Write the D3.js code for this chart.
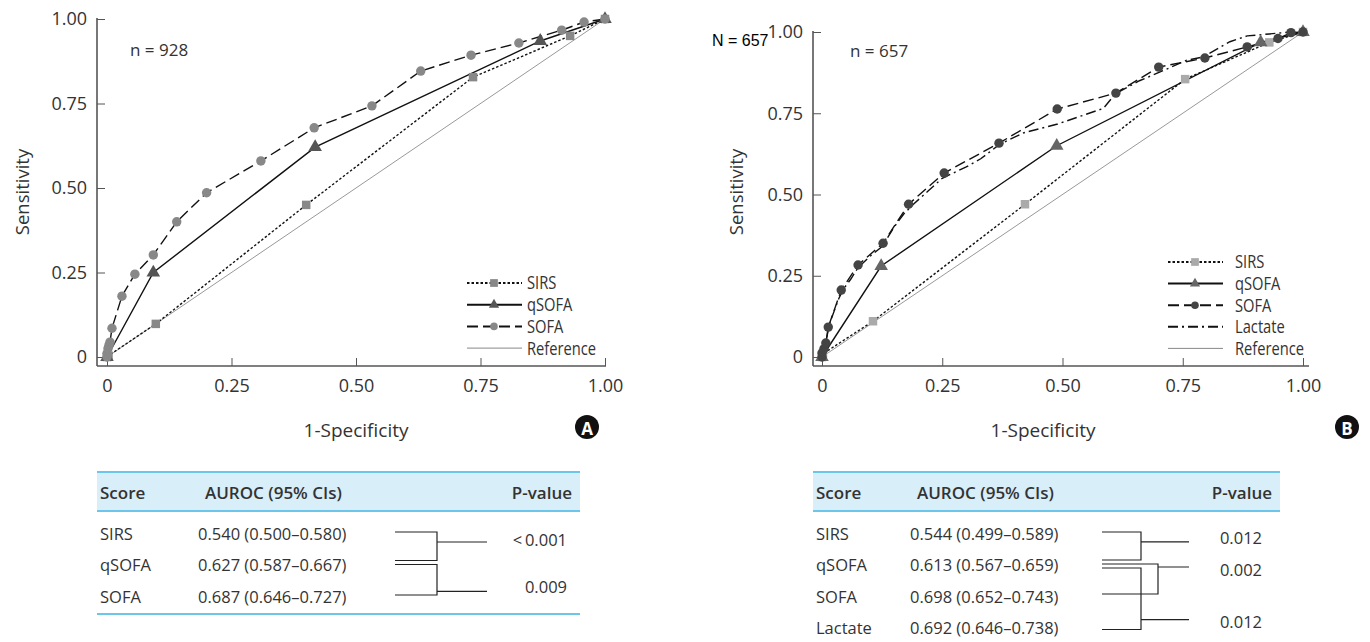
<!DOCTYPE html>
<html>
<head>
<meta charset="utf-8">
<script src="https://cdn.jsdelivr.net/npm/d3@7"></script>
<style>
  body { margin: 0; background: #fff; }
  svg text { font-family: "Open Sans", sans-serif; fill: #333; }
</style>
</head>
<body>
<svg id="chart" width="1370" height="642"></svg>
<script>
const axisTicks = [0, 0.25, 0.5, 0.75, 1];

// panel A (n = 928): [1-specificity, sensitivity]
const sirsA = [[0, 0], [0.003, 0.004], [0.098, 0.098], [0.40, 0.45], [0.735, 0.828], [0.93, 0.95], [1, 1]];
const qsofaA = [[0, 0], [0.093, 0.25], [0.418, 0.621], [0.87, 0.935], [1, 1]];
const sofaA = [[0, 0], [0, 0.01], [0.002, 0.025], [0.004, 0.035], [0.006, 0.044], [0.01, 0.085],
  [0.03, 0.18], [0.056, 0.245], [0.093, 0.302], [0.14, 0.40], [0.20, 0.486], [0.309, 0.58],
  [0.416, 0.678], [0.532, 0.743], [0.63, 0.846], [0.731, 0.893], [0.827, 0.929], [0.913, 0.967],
  [0.958, 0.991], [1, 1]];

// panel B (n = 657)
const sirsB = [[0, 0], [0.002, 0.01], [0.106, 0.11], [0.422, 0.47], [0.755, 0.855], [0.93, 0.968], [1, 1]];
const qsofaB = [[0, 0], [0.123, 0.28], [0.488, 0.65], [0.912, 0.968], [1, 1]];
const sofaB = [[0, 0], [0, 0.012], [0.004, 0.025], [0.008, 0.043], [0.013, 0.092], [0.04, 0.206],
  [0.075, 0.283], [0.127, 0.35], [0.18, 0.47], [0.254, 0.566], [0.368, 0.658], [0.489, 0.763],
  [0.611, 0.812], [0.70, 0.892], [0.796, 0.92], [0.884, 0.954], [0.948, 0.98], [0.975, 0.998], [1, 1]];
const lactateB = [[0, 0], [0.004, 0.03], [0.01, 0.06], [0.015, 0.1], [0.025, 0.14], [0.035, 0.18],
  [0.045, 0.21], [0.06, 0.24], [0.075, 0.275], [0.1, 0.31], [0.125, 0.34], [0.15, 0.4], [0.17, 0.44],
  [0.19, 0.47], [0.22, 0.51], [0.25, 0.55], [0.3, 0.585], [0.33, 0.61], [0.37, 0.655], [0.42, 0.69],
  [0.49, 0.717], [0.585, 0.765], [0.61, 0.81], [0.66, 0.85], [0.703, 0.877], [0.758, 0.913],
  [0.792, 0.923], [0.848, 0.97], [0.884, 0.988], [0.93, 0.994], [0.973, 1], [1, 1]];

const reference = [[0, 0], [1, 1]];

// tables
const scoresA = ["SIRS", "qSOFA", "SOFA"];
const aurocA = ["0.540 (0.500–0.580)", "0.627 (0.587–0.667)", "0.687 (0.646–0.727)"];
const pValuesA = ["<\u20090.001", "0.009"];

const scoresB = ["SIRS", "qSOFA", "SOFA", "Lactate"];
const aurocB = ["0.544 (0.499–0.589)", "0.613 (0.567–0.659)", "0.698 (0.652–0.743)", "0.692 (0.646–0.738)"];
const pValuesB = ["0.012", "0.002", "0.012"];

const svg = d3.select("#chart");
const fmt = d => d === 0 ? "0" : d3.format(".2f")(d);

const styles = {
  SIRS: {dash: "2.5,2", symbol: d3.symbolSquare, size: 72},
  qSOFA: {dash: null, symbol: d3.symbolTriangle, size: 80},
  SOFA: {dash: "11,5", symbol: d3.symbolCircle, size: 70},
  Lactate: {dash: "10,4,2,4", symbol: null},
};

const drawPanel = (p) => {
  const g = svg.append("g");
  const x = d3.scaleLinear().domain([0, 1]).range([p.left, p.right]);
  const y = d3.scaleLinear().domain([0, 1]).range([p.bottom, p.top]);

  g.append("line")
    .attr("x1", p.axisX).attr("x2", p.axisX)
    .attr("y1", p.top - 1).attr("y2", p.axisY)
    .attr("stroke", "#555").attr("stroke-width", 1.6);
  g.append("line")
    .attr("x1", p.axisX).attr("x2", p.axisEnd)
    .attr("y1", p.axisY).attr("y2", p.axisY)
    .attr("stroke", "#555").attr("stroke-width", 1.6);

  const yAxis = d3.axisLeft(y).tickValues(axisTicks).tickFormat(fmt)
    .tickSizeInner(-8).tickSizeOuter(0).tickPadding(10);
  g.append("g")
    .attr("transform", `translate(${p.axisX},0)`)
    .call(yAxis)
    .call(a => a.select(".domain").remove())
    .attr("font-size", 18).attr("color", "#555");

  const xAxis = d3.axisBottom(x).tickValues(axisTicks).tickFormat(fmt)
    .tickSizeInner(-8).tickSizeOuter(0).tickPadding(13);
  g.append("g")
    .attr("transform", `translate(0,${p.axisY})`)
    .call(xAxis)
    .call(a => a.select(".domain").remove())
    .attr("font-size", 18).attr("color", "#555");

  g.append("text")
    .attr("transform", `translate(${p.yLabelX},${p.yLabelY}) rotate(-90)`)
    .attr("text-anchor", "middle").attr("dominant-baseline", "central")
    .attr("font-size", 18.5).text("Sensitivity");

  g.append("text")
    .attr("x", p.xLabelX).attr("y", 430)
    .attr("text-anchor", "middle").attr("dominant-baseline", "central")
    .attr("font-size", 19).text("1-Specificity");

  g.append("text")
    .attr("x", p.nX).attr("y", p.nY)
    .attr("dominant-baseline", "central")
    .attr("font-size", 17).text(p.nText);

  const line = d3.line().x(d => x(d[0])).y(d => y(d[1]));

  g.append("path")
    .attr("d", line(reference))
    .attr("fill", "none").attr("stroke", "#999").attr("stroke-width", 1);

  p.series.forEach(s => {
    g.append("path")
      .attr("d", line(s.data))
      .attr("fill", "none").attr("stroke", "#111").attr("stroke-width", 1.4)
      .attr("stroke-dasharray", styles[s.name].dash);
  });

  p.series.forEach(s => {
    const st = styles[s.name];
    if (!st.symbol) return;
    g.selectAll(null)
      .data(s.data)
      .join("path")
      .attr("transform", d => `translate(${x(d[0])},${y(d[1])})`)
      .attr("d", d3.symbol().type(st.symbol).size(st.size))
      .attr("fill", s.fill);
  });

  // legend
  const lg = g.append("g");
  const names = p.series.map(s => s.name).concat(["Reference"]);
  names.forEach((name, i) => {
    const ly = p.legendY + i * p.legendStep;
    const s = p.series.find(d => d.name === name);
    lg.append("line")
      .attr("x1", p.legendX).attr("x2", p.legendX + 55)
      .attr("y1", ly).attr("y2", ly)
      .attr("stroke", name === "Reference" ? "#888" : "#111")
      .attr("stroke-width", name === "Reference" ? 1 : 2)
      .attr("stroke-dasharray", name === "Reference" ? null : styles[name].dash);
    if (s && styles[name].symbol) {
      lg.append("path")
        .attr("transform", `translate(${p.legendX + 27},${ly})`)
        .attr("d", d3.symbol().type(styles[name].symbol).size(name === "SIRS" ? 60 : 45))
        .attr("fill", s.fill);
    }
    lg.append("text")
      .attr("transform", `translate(${p.legendText},${ly}) scale(0.84,1)`)
      .attr("dominant-baseline", "central")
      .attr("font-size", 17.5).text(name);
  });

  // badge
  g.append("circle").attr("cx", p.badgeX).attr("cy", 427).attr("r", 12).attr("fill", "#111");
  g.append("text")
    .attr("x", p.badgeX).attr("y", 428)
    .attr("text-anchor", "middle").attr("dominant-baseline", "central")
    .attr("font-size", 17).attr("font-weight", 700)
    .style("fill", "#fff").text(p.badge);
};

const rowY = i => 533 + i * 31.5;

const drawTable = (t) => {
  const g = svg.append("g");
  g.append("rect")
    .attr("x", t.left).attr("y", 472)
    .attr("width", t.right - t.left).attr("height", 39)
    .attr("fill", "#d8eef9");
  [472, 511].concat(t.bottomRule ? [614] : []).forEach(ly => {
    g.append("line")
      .attr("x1", t.left).attr("x2", t.right)
      .attr("y1", ly).attr("y2", ly)
      .attr("stroke", "#6cc6ec").attr("stroke-width", 2);
  });

  const header = g.append("g").attr("font-size", 17).attr("font-weight", 600);
  header.append("text").attr("x", t.left + 3).attr("y", 492)
    .attr("dominant-baseline", "central").text("Score");
  header.append("text").attr("x", t.aurocX + 7).attr("y", 492)
    .attr("dominant-baseline", "central").text("AUROC (95% CIs)");
  header.append("text").attr("x", t.right - 8).attr("y", 492)
    .attr("text-anchor", "end").attr("dominant-baseline", "central").text("P-value");

  t.scores.forEach((s, i) => {
    g.append("text").attr("x", t.left + 3).attr("y", rowY(i))
      .attr("dominant-baseline", "central").attr("font-size", 16.5).text(s);
    g.append("text").attr("x", t.aurocX).attr("y", rowY(i))
      .attr("dominant-baseline", "central").attr("font-size", 16.5).text(t.auroc[i]);
  });

  t.brackets.forEach(b => {
    const y1 = rowY(b.a) + b.offA;
    const y2 = rowY(b.b) + b.offB;
    const yo = y1 + (y2 - y1) * b.tap;
    g.append("path")
      .attr("d", `M${t.bx0},${y1}H${b.xv}V${y2}H${t.bx0}M${b.xv},${yo}H${t.bx1}`)
      .attr("fill", "none").attr("stroke", "#222").attr("stroke-width", 1.2);
    g.append("text")
      .attr("x", t.pX).attr("y", yo + b.pOff)
      .attr("text-anchor", "end").attr("dominant-baseline", "central")
      .attr("font-size", 16.5).text(b.p);
  });
};

drawPanel({
  left: 107, right: 605, top: 19, bottom: 357,
  axisX: 97, axisY: 366, axisEnd: 606,
  yLabelX: 21, yLabelY: 192, xLabelX: 356,
  nX: 130, nY: 49, nText: "n = 928",
  series: [
    {name: "SIRS", data: sirsA, fill: "#888"},
    {name: "qSOFA", data: qsofaA, fill: "#555"},
    {name: "SOFA", data: sofaA, fill: "#888"},
  ],
  legendX: 467, legendText: 527, legendY: 283, legendStep: 21.7,
  badgeX: 587, badge: "A",
});

drawPanel({
  left: 822, right: 1303, top: 32, bottom: 357,
  axisX: 813, axisY: 366, axisEnd: 1309,
  yLabelX: 735, yLabelY: 192, xLabelX: 1043,
  nX: 850, nY: 50, nText: "n = 657",
  series: [
    {name: "SIRS", data: sirsB, fill: "#aaa"},
    {name: "qSOFA", data: qsofaB, fill: "#666"},
    {name: "SOFA", data: sofaB, fill: "#444"},
    {name: "Lactate", data: lactateB, fill: "#444"},
  ],
  legendX: 1168, legendText: 1235, legendY: 262, legendStep: 21.6,
  badgeX: 1347, badge: "B",
});

svg.append("text")
  .attr("x", 712).attr("y", 40)
  .attr("dominant-baseline", "central")
  .attr("font-size", 16)
  .style("font-family", "'Liberation Sans', Arial, sans-serif")
  .style("fill", "#000")
  .text("N = 657");

drawTable({
  left: 97, right: 580, aurocX: 198, bottomRule: true,
  bx0: 395, bx1: 487, pX: 567,
  scores: scoresA, auroc: aurocA,
  brackets: [
    {a: 0, b: 1, offA: -1, offB: -4, xv: 437, tap: 0.35, p: pValuesA[0], pOff: -2},
    {a: 1, b: 2, offA: 0, offB: -1, xv: 437, tap: 0.88, p: pValuesA[1], pOff: -5},
  ],
});

drawTable({
  left: 813, right: 1280, aurocX: 910, bottomRule: false,
  bx0: 1102, bx1: 1189, pX: 1262,
  scores: scoresB, auroc: aurocB,
  brackets: [
    {a: 0, b: 1, offA: -1, offB: -4.5, xv: 1141, tap: 0.35, p: pValuesB[0], pOff: -4},
    {a: 1, b: 2, offA: -0.5, offB: -2, xv: 1158, tap: 0.1, p: pValuesB[1], pOff: 2},
    {a: 1, b: 3, offA: 3.5, offB: 2, xv: 1141, tap: 0.84, p: pValuesB[2], pOff: 2},
  ],
});
</script>
</body>
</html>
